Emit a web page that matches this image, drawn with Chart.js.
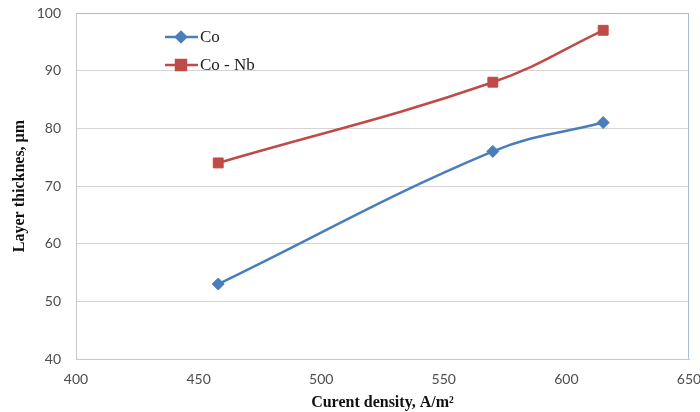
<!DOCTYPE html>
<html>
<head>
<meta charset="utf-8">
<script src="https://cdn.jsdelivr.net/npm/chart.js@4"></script>
<style>
  html, body { margin: 0; padding: 0; background: #fff; }
  #wrap { width: 700px; height: 412px; }
</style>
</head>
<body>
<div id="wrap"><canvas id="myChart" width="700" height="412"></canvas></div>
<script>
// data
const currentDensity = [458, 570, 615];
const coThickness = [53, 76, 81];
const coNbThickness = [74, 88, 97];
const seriesNames = ['Co', 'Co - Nb'];
const seriesColors = ['#4a7ebb', '#be4b48'];

function toPoints(xs, ys) {
    return xs.map((x, i) => ({ x: x, y: ys[i] }));
}

// legend inside the plot + light blue frame (top / right)
const extras = {
    id: 'extras',
    afterDraw(chart) {
        const ctx = chart.ctx;
        const a = chart.chartArea;
        ctx.save();
        ctx.strokeStyle = '#a7bddc';
        ctx.lineWidth = 1;
        ctx.beginPath();
        ctx.moveTo(a.left, a.top + 0.5);
        ctx.lineTo(a.right - 0.5, a.top + 0.5);
        ctx.lineTo(a.right - 0.5, a.bottom);
        ctx.stroke();

        const rows = [
            { y: 37, style: 'rectRot', r: 5 },
            { y: 65, style: 'rect', r: 7 }
        ];
        rows.forEach((row, i) => {
            const c = seriesColors[i];
            ctx.strokeStyle = c;
            ctx.lineWidth = 2.5;
            ctx.beginPath();
            ctx.moveTo(165, row.y);
            ctx.lineTo(198, row.y);
            ctx.stroke();
            ctx.fillStyle = c;
            Chart.helpers.drawPoint(ctx, { pointStyle: row.style, radius: row.r, borderWidth: 1 }, 181, row.y);
            ctx.fill();
            ctx.fillStyle = '#222';
            ctx.font = '17px "Liberation Serif", serif';
            ctx.textBaseline = 'middle';
            ctx.textAlign = 'left';
            ctx.fillText(seriesNames[i], 200, row.y + 1);
        });
        ctx.restore();
    }
};

new Chart('myChart', {
    type: 'line',
    data: {
        datasets: [{
            label: seriesNames[0],
            data: toPoints(currentDensity, coThickness),
            borderColor: seriesColors[0],
            backgroundColor: seriesColors[0],
            borderWidth: 2.5,
            pointStyle: 'rectRot',
            pointRadius: 6,
            pointBorderWidth: 1,
            tension: 0.4
        }, {
            label: seriesNames[1],
            data: toPoints(currentDensity, coNbThickness),
            borderColor: seriesColors[1],
            backgroundColor: seriesColors[1],
            borderWidth: 2.5,
            pointStyle: 'rect',
            pointRadius: 7,
            pointBorderWidth: 1,
            tension: 0.4
        }]
    },
    options: {
        responsive: false,
        animation: false,
        layout: { padding: { top: 13, right: 11, left: 0, bottom: 0 } },
        plugins: {
            legend: { display: false },
            tooltip: { enabled: false }
        },
        scales: {
            x: {
                type: 'linear',
                min: 400,
                max: 650,
                ticks: {
                    stepSize: 50,
                    color: '#4d4d4d',
                    padding: 12,
                    font: { family: 'Lato', size: 14 }
                },
                grid: { display: false, drawTicks: false },
                border: { color: '#c8c8c8', width: 1 },
                title: {
                    display: true,
                    text: 'Curent density, A/m²',
                    color: '#111',
                    font: { family: '"Liberation Serif", serif', size: 16, weight: 'bold' },
                    padding: { top: 4, bottom: 0 }
                },
                afterFit(scale) {
                    scale.height = 53;
                    scale.paddingLeft = 0;
                    scale.paddingRight = 0;
                }
            },
            y: {
                min: 40,
                max: 100,
                ticks: {
                    stepSize: 10,
                    color: '#4d4d4d',
                    padding: 15,
                    font: { family: 'Lato', size: 14 }
                },
                grid: { color: '#d4d4d4', lineWidth: 1, drawTicks: false },
                border: { color: '#c8c8c8', width: 1 },
                title: {
                    display: true,
                    text: 'Layer thicknes, µm',
                    color: '#111',
                    font: { family: '"Liberation Serif", serif', size: 16, weight: 'bold' },
                    padding: { top: 10, bottom: 0 }
                },
                afterFit(scale) {
                    scale.width = 76;
                    scale.paddingTop = 0;
                    scale.paddingBottom = 0;
                }
            }
        }
    },
    plugins: [extras]
});
</script>
</body>
</html>
